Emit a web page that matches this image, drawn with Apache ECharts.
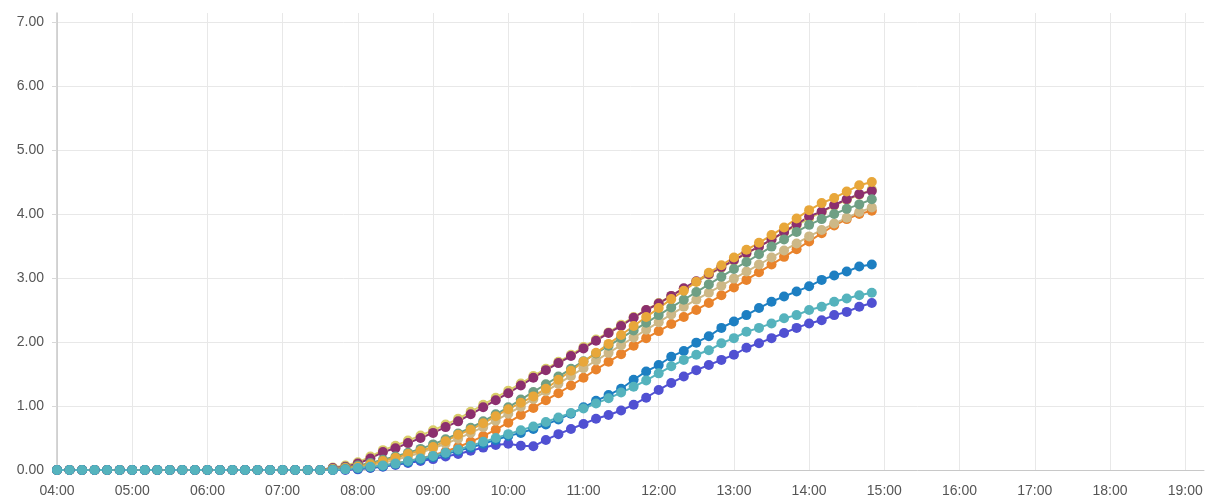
<!DOCTYPE html>
<html>
<head>
<meta charset="utf-8">
<script src="https://cdn.jsdelivr.net/npm/echarts@6/dist/echarts.min.js"></script>
<style>html,body{margin:0;padding:0;background:#fff;}#c{width:1208px;height:500px;}</style>
</head>
<body>
<div id="c"></div>
<script>
const times = ["04:00","04:10","04:20","04:30","04:40","04:50","05:00","05:10","05:20","05:30","05:40","05:50",
"06:00","06:10","06:20","06:30","06:40","06:50","07:00","07:10","07:20","07:30","07:40","07:50",
"08:00","08:10","08:20","08:30","08:40","08:50","09:00","09:10","09:20","09:30","09:40","09:50",
"10:00","10:10","10:20","10:30","10:40","10:50","11:00","11:10","11:20","11:30","11:40","11:50",
"12:00","12:10","12:20","12:30","12:40","12:50","13:00","13:10","13:20","13:30","13:40","13:50",
"14:00","14:10","14:20","14:30","14:40","14:50"];

const yellow = [0,0,0,0,0,0,0,0,0,0,0,0,0,0,0,0,0,0,0,0,0,0,
0.04,0.07,0.12,0.21,0.31,0.38,0.46,0.54,0.62,0.71,0.80,0.91,1.02,1.13,1.24,1.35,1.47,1.58,1.69,1.80,1.92,2.04,2.15,2.27,2.39,2.50,2.61,2.72,2.83,2.94,3.05,3.16,3.27,3.38,3.49,3.60,3.71,3.82,3.93,4.03,4.13,4.22,4.30,4.38];
const purple = [0,0,0,0,0,0,0,0,0,0,0,0,0,0,0,0,0,0,0,0,0,0,
0.03,0.05,0.10,0.18,0.28,0.34,0.42,0.50,0.58,0.67,0.76,0.87,0.98,1.09,1.20,1.32,1.44,1.56,1.67,1.78,1.90,2.02,2.14,2.25,2.38,2.50,2.60,2.72,2.84,2.95,3.06,3.17,3.28,3.39,3.49,3.60,3.72,3.84,3.96,4.04,4.14,4.23,4.31,4.36];
const orange = [0,0,0,0,0,0,0,0,0,0,0,0,0,0,0,0,0,0,0,0,0,0,
0,0.01,0.02,0.04,0.07,0.10,0.14,0.18,0.23,0.29,0.36,0.44,0.53,0.63,0.74,0.86,0.97,1.09,1.20,1.32,1.44,1.57,1.69,1.81,1.94,2.06,2.17,2.28,2.39,2.50,2.61,2.73,2.85,2.97,3.09,3.21,3.33,3.45,3.57,3.70,3.82,3.92,4.00,4.05];
const beige = [0,0,0,0,0,0,0,0,0,0,0,0,0,0,0,0,0,0,0,0,0,0,
0.01,0.02,0.04,0.07,0.11,0.16,0.21,0.27,0.34,0.41,0.49,0.58,0.67,0.77,0.88,0.99,1.11,1.23,1.35,1.47,1.59,1.71,1.83,1.95,2.07,2.19,2.31,2.43,2.55,2.66,2.77,2.88,2.99,3.10,3.21,3.32,3.43,3.54,3.65,3.75,3.85,3.94,4.03,4.10];
const green = [0,0,0,0,0,0,0,0,0,0,0,0,0,0,0,0,0,0,0,0,0,0,
0.02,0.04,0.07,0.11,0.16,0.21,0.27,0.33,0.40,0.48,0.57,0.66,0.76,0.87,0.98,1.10,1.22,1.34,1.46,1.58,1.70,1.82,1.94,2.06,2.18,2.30,2.42,2.54,2.66,2.78,2.90,3.02,3.14,3.25,3.37,3.49,3.60,3.72,3.83,3.92,4.00,4.08,4.15,4.23];
const gold = [0,0,0,0,0,0,0,0,0,0,0,0,0,0,0,0,0,0,0,0,0,0,
0.01,0.03,0.05,0.09,0.14,0.19,0.25,0.30,0.36,0.45,0.55,0.63,0.73,0.84,0.95,1.05,1.15,1.27,1.41,1.55,1.69,1.83,1.97,2.11,2.25,2.39,2.53,2.67,2.80,2.94,3.08,3.20,3.32,3.44,3.55,3.67,3.79,3.93,4.06,4.17,4.25,4.35,4.45,4.50];
const violet = [0,0,0,0,0,0,0,0,0,0,0,0,0,0,0,0,0,0,0,0,0,0,
0,0,0.01,0.03,0.05,0.08,0.11,0.14,0.17,0.21,0.25,0.30,0.35,0.39,0.41,0.38,0.37,0.47,0.56,0.64,0.72,0.80,0.86,0.93,1.02,1.13,1.25,1.36,1.46,1.56,1.64,1.72,1.80,1.91,1.98,2.06,2.14,2.22,2.29,2.34,2.42,2.47,2.55,2.61];
const blue = [0,0,0,0,0,0,0,0,0,0,0,0,0,0,0,0,0,0,0,0,0,0,
0,0.01,0.02,0.04,0.06,0.09,0.12,0.16,0.20,0.25,0.30,0.35,0.41,0.47,0.53,0.58,0.64,0.71,0.79,0.88,0.98,1.08,1.17,1.27,1.41,1.54,1.64,1.77,1.86,1.99,2.09,2.22,2.32,2.42,2.53,2.63,2.71,2.79,2.87,2.97,3.04,3.10,3.18,3.21];
const teal = [0,0,0,0,0,0,0,0,0,0,0,0,0,0,0,0,0,0,0,0,0,0,
0,0.01,0.03,0.05,0.07,0.10,0.14,0.18,0.22,0.27,0.32,0.38,0.44,0.50,0.56,0.62,0.68,0.75,0.82,0.89,0.96,1.04,1.12,1.21,1.30,1.40,1.51,1.62,1.72,1.80,1.87,1.98,2.06,2.16,2.22,2.29,2.37,2.42,2.50,2.55,2.63,2.68,2.73,2.77];

const yTicks = ["0.00","1.00","2.00","3.00","4.00","5.00","6.00","7.00"];

function toMin(s){const p=s.split(':');return (+p[0])*60+(+p[1]);}
function pad(n){return (n<10?'0':'')+n;}
const xs = times.map(toMin);

const seriesDefs = [
  ['yellow', yellow, '#d9cd6a'],
  ['purple', purple, '#8c2f6e'],
  ['orange', orange, '#e9832b'],
  ['beige', beige, '#cdb887'],
  ['green', green, '#6f9f84'],
  ['gold', gold, '#e8a73a'],
  ['violet', violet, '#5050d2'],
  ['blue', blue, '#1d7fc2'],
  ['teal', teal, '#55b3bd']
];

const chart = echarts.init(document.getElementById('c'));
chart.setOption({
  animation: false,
  backgroundColor: '#fff',
  grid: {left: 57, right: 4, top: 13, bottom: 30},
  xAxis: {
    type: 'value', min: 240, max: 1155, interval: 60,
    axisLine: {show: true, lineStyle: {color: '#c8c8c8', width: 1}},
    axisTick: {show: false},
    axisLabel: {showMaxLabel: false, color: '#555', fontSize: 14, fontFamily: 'Liberation Sans, Arial, sans-serif', margin: 14,
      formatter: v => pad(Math.floor(v/60)) + ':' + pad(v%60)},
    splitLine: {show: true, showMaxLine: false, lineStyle: {color: '#e8e8e8', width: 1}}
  },
  yAxis: {
    type: 'value', min: 0, max: 7.14, interval: 1,
    axisLine: {show: true, lineStyle: {color: '#c8c8c8', width: 1.5}},
    axisTick: {show: true, length: 5, lineStyle: {color: '#d8d8d8'}},
    axisLabel: {showMaxLabel: false, color: '#555', fontSize: 14, fontFamily: 'Liberation Sans, Arial, sans-serif', margin: 13,
      formatter: v => yTicks[Math.round(v)] || ''},
    splitLine: {show: true, showMaxLine: false, lineStyle: {color: '#e8e8e8', width: 1}}
  },
  series: seriesDefs.map(([name, vals, color]) => ({
    name, type: 'line',
    data: xs.map((x, i) => [x, vals[i]]),
    symbol: 'circle', symbolSize: 10, showAllSymbol: true,
    lineStyle: {color, width: 2},
    itemStyle: {color},
    z: 2
  }))
});
</script>
</body>
</html>
